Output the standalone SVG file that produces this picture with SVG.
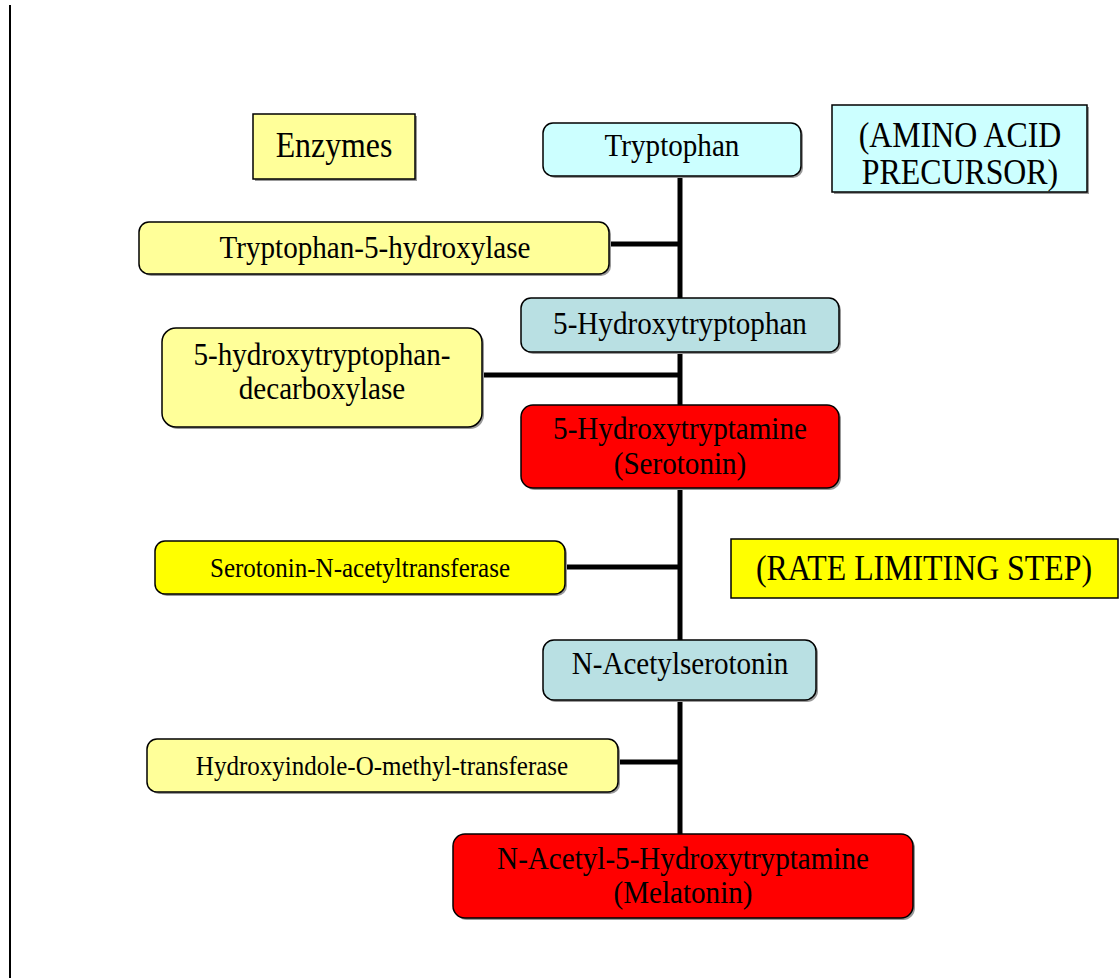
<svg xmlns="http://www.w3.org/2000/svg" width="1120" height="978" viewBox="0 0 1120 978">
<style>
  .box { stroke: #000; stroke-width: 1.5; }
  .sh { fill: #999; }
  .t { font-family: "Liberation Serif", "Times New Roman", serif; fill: #000; text-anchor: middle; }
  .m { font-size: 32px; }
  .s { font-size: 27.5px; }
  .l { font-size: 35px; }
  .conn { stroke: #000; stroke-width: 5; fill: none; }
</style>
<rect width="1120" height="978" fill="#fff"/>
<line x1="10" y1="5" x2="10" y2="978" stroke="#000" stroke-width="2"/>

<g id="connectors">
  <line class="conn" x1="680" y1="176" x2="680" y2="298"/>
  <line class="conn" x1="609" y1="244" x2="680" y2="244"/>
  <line class="conn" x1="680" y1="352" x2="680" y2="405"/>
  <line class="conn" x1="482" y1="375" x2="680" y2="375"/>
  <line class="conn" x1="680" y1="488" x2="680" y2="640"/>
  <line class="conn" x1="565" y1="567" x2="680" y2="567"/>
  <line class="conn" x1="680" y1="700" x2="680" y2="834"/>
  <line class="conn" x1="618" y1="762" x2="680" y2="762"/>
</g>

<g id="enzymes-label">
  <rect class="sh" x="255" y="116" width="162" height="65"/>
  <rect class="box" x="253" y="114" width="162" height="65" fill="#ffff99"/>
  <text class="t l" transform="matrix(0.91 0 0 1 334 0)" x="0" y="157">Enzymes</text>
</g>

<g id="amino-label">
  <rect class="sh" x="834" y="107" width="255" height="87"/>
  <rect class="box" x="832" y="105" width="255" height="87" fill="#ccffff"/>
  <text class="t l" transform="matrix(0.91 0 0 1 960 0)" x="0" y="147">(AMINO ACID</text>
  <text class="t l" transform="matrix(0.91 0 0 1 960 0)" x="0" y="184">PRECURSOR)</text>
</g>

<g id="tryptophan">
  <rect class="sh" x="545" y="125" width="258" height="53" rx="10"/>
  <rect class="box" x="543" y="123" width="258" height="53" rx="10" fill="#ccffff"/>
  <text class="t m" transform="matrix(0.91 0 0 1 672 0)" x="0" y="156">Tryptophan</text>
</g>

<g id="tph">
  <rect class="sh" x="141" y="224" width="470" height="52" rx="10"/>
  <rect class="box" x="139" y="222" width="470" height="52" rx="10" fill="#ffff99"/>
  <text class="t m" transform="matrix(0.91 0 0 1 375 0)" x="0" y="258">Tryptophan-5-hydroxylase</text>
</g>

<g id="htp">
  <rect class="sh" x="523" y="300" width="318" height="54" rx="10"/>
  <rect class="box" x="521" y="298" width="318" height="54" rx="10" fill="#b9e0e3"/>
  <text class="t m" transform="matrix(0.91 0 0 1 680 0)" x="0" y="334">5-Hydroxytryptophan</text>
</g>

<g id="decarboxylase">
  <rect class="sh" x="164" y="330" width="320" height="99" rx="14"/>
  <rect class="box" x="162" y="328" width="320" height="99" rx="14" fill="#ffff99"/>
  <text class="t m" transform="matrix(0.91 0 0 1 322 0)" x="0" y="365">5-hydroxytryptophan-</text>
  <text class="t m" transform="matrix(0.91 0 0 1 322 0)" x="0" y="399">decarboxylase</text>
</g>

<g id="serotonin">
  <rect class="sh" x="523" y="407" width="318" height="83" rx="12"/>
  <rect class="box" x="521" y="405" width="318" height="83" rx="12" fill="#ff0000"/>
  <text class="t m" transform="matrix(0.91 0 0 1 680 0)" x="0" y="439">5-Hydroxytryptamine</text>
  <text class="t m" transform="matrix(0.91 0 0 1 680 0)" x="0" y="474">(Serotonin)</text>
</g>

<g id="aanat">
  <rect class="sh" x="157" y="543" width="410" height="53" rx="10"/>
  <rect class="box" x="155" y="541" width="410" height="53" rx="10" fill="#ffff00"/>
  <text class="t s" transform="matrix(0.91 0 0 1 360 0)" x="0" y="577">Serotonin-N-acetyltransferase</text>
</g>

<g id="rate-label">
  <rect class="box" x="731" y="539" width="387" height="59" fill="#ffff00"/>
  <text class="t l" transform="matrix(0.91 0 0 1 924 0)" x="0" y="580">(RATE LIMITING STEP)</text>
</g>

<g id="nas">
  <rect class="sh" x="545" y="642" width="273" height="60" rx="11"/>
  <rect class="box" x="543" y="640" width="273" height="60" rx="11" fill="#b9e0e3"/>
  <text class="t m" transform="matrix(0.91 0 0 1 680 0)" x="0" y="674">N-Acetylserotonin</text>
</g>

<g id="hiomt">
  <rect class="sh" x="149" y="741" width="471" height="53" rx="10"/>
  <rect class="box" x="147" y="739" width="471" height="53" rx="10" fill="#ffff99"/>
  <text class="t s" transform="matrix(0.91 0 0 1 382 0)" x="0" y="775">Hydroxyindole-O-methyl-transferase</text>
</g>

<g id="melatonin">
  <rect class="sh" x="455" y="836" width="460" height="84" rx="12"/>
  <rect class="box" x="453" y="834" width="460" height="84" rx="12" fill="#ff0000"/>
  <text class="t m" transform="matrix(0.91 0 0 1 683 0)" x="0" y="869">N-Acetyl-5-Hydroxytryptamine</text>
  <text class="t m" transform="matrix(0.91 0 0 1 683 0)" x="0" y="903">(Melatonin)</text>
</g>
</svg>
